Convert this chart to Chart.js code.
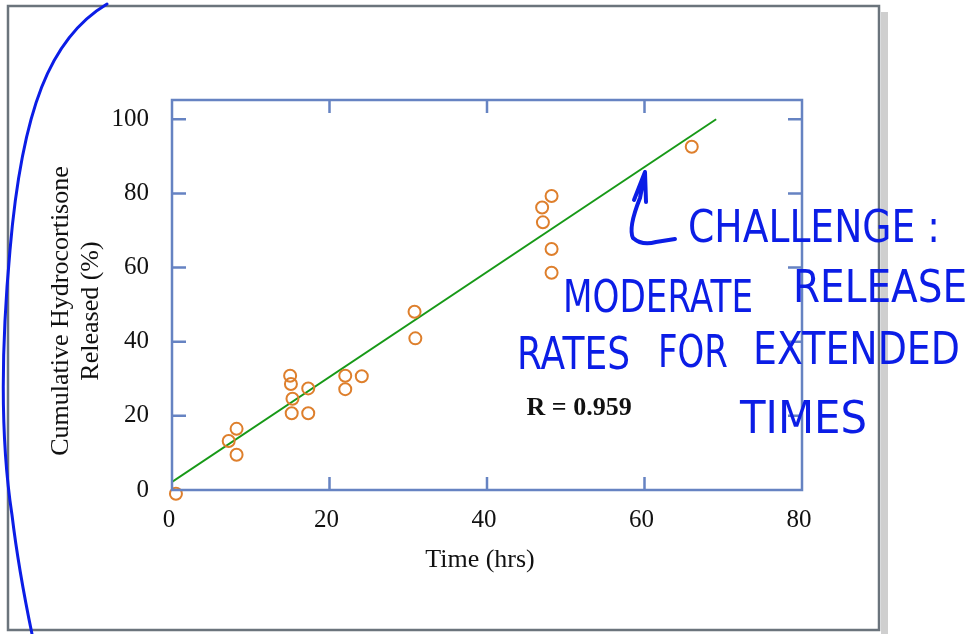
<!DOCTYPE html>
<html>
<head>
<meta charset="utf-8">
<script src="https://cdn.jsdelivr.net/npm/chart.js@4.4.0/dist/chart.umd.min.js"></script>
<style>
  html, body { margin: 0; padding: 0; background: #fff; }
  #wrap { width: 970px; height: 634px; }
</style>
</head>
<body>
<div id="wrap"><canvas id="releaseChart" width="970" height="634"></canvas></div>
<script>
// Release data
const timeHrs = [0.5, 7.2, 8.2, 8.2, 15.0, 15.1, 15.3, 15.2, 17.3, 17.3, 22.0, 22.0, 24.1, 30.8, 30.9, 47.0, 47.1, 48.2, 48.2, 48.2, 66.0];
const releasedPct = [-1.0, 13.2, 16.5, 9.5, 30.8, 28.6, 24.6, 20.7, 27.4, 20.7, 30.8, 27.2, 30.7, 48.1, 40.9, 76.2, 72.2, 79.3, 65.0, 58.6, 92.6];

// Linear fit end points
const fitX = [0, 69.1];
const fitY = [2.2, 100];
const fitR = 'R = 0.959';

const xTicks = [0, 20, 40, 60, 80];
const yTicks = [0, 20, 40, 60, 80, 100];

const xTitle = 'Time (hrs)';
const yTitle = ['Cumulative Hydrocortisone', 'Released (%)'];

const noteLines = [
    ['CHALLENGE :'],
    ['MODERATE', 'RELEASE'],
    ['RATES', 'FOR', 'EXTENDED'],
    ['TIMES']
];

const axisBlue = '#6683c2';
const inkBlue = '#0b1de6';
const serif = '"Liberation Serif", "Times New Roman", serif';

// Draws the paper frame, the plot box with inward ticks, titles and the handwritten notes
const decorations = {
    id: 'decorations',
    beforeDraw(chart) {
        const ctx = chart.ctx;
        ctx.save();
        ctx.fillStyle = '#ffffff';
        ctx.fillRect(0, 0, chart.width, chart.height);
        // drop shadow of the slide frame
        ctx.fillStyle = '#cfcfcf';
        ctx.fillRect(881, 12, 7, chart.height - 12);
        ctx.strokeStyle = '#6b747c';
        ctx.lineWidth = 2.5;
        ctx.strokeRect(8, 6, 871, 624);
        ctx.restore();
    },
    afterDraw(chart) {
        const ctx = chart.ctx;
        const area = chart.chartArea;
        const xs = chart.scales.x;
        const ys = chart.scales.y;
        ctx.save();

        // plot box
        ctx.strokeStyle = axisBlue;
        ctx.lineWidth = 2.5;
        ctx.strokeRect(area.left, area.top, area.right - area.left, area.bottom - area.top);

        // inward ticks on all four sides
        ctx.beginPath();
        yTicks.forEach(v => {
            if (v === 0) return;
            const py = ys.getPixelForValue(v);
            ctx.moveTo(area.left, py); ctx.lineTo(area.left + 14, py);
            ctx.moveTo(area.right, py); ctx.lineTo(area.right - 14, py);
        });
        xTicks.forEach(v => {
            if (v === xTicks[0] || v === xTicks[xTicks.length - 1]) return;
            const px = xs.getPixelForValue(v);
            ctx.moveTo(px, area.bottom); ctx.lineTo(px, area.bottom - 13);
            ctx.moveTo(px, area.top); ctx.lineTo(px, area.top + 13);
        });
        ctx.stroke();

        // axis titles
        ctx.fillStyle = '#111';
        ctx.font = '26px ' + serif;
        ctx.textAlign = 'center';
        ctx.textBaseline = 'middle';
        ctx.fillText(xTitle, 480, 560);
        ctx.save();
        ctx.translate(61, 311);
        ctx.rotate(-Math.PI / 2);
        ctx.fillText(yTitle[0], 0, 0);
        ctx.fillText(yTitle[1], 0, 30);
        ctx.restore();

        // correlation label
        ctx.font = 'bold 26px ' + serif;
        ctx.fillText(fitR, xs.getPixelForValue(51.7), ys.getPixelForValue(22.1));

        // handwritten note
        ctx.fillStyle = inkBlue;
        ctx.font = '45px "DejaVu Sans", sans-serif';
        ctx.textAlign = 'left';
        const spots = [
            [[688, 230, 252]],
            [[563, 300, 190], [793, 290, 174]],
            [[517, 357, 113], [658, 355, 70], [753, 352, 207]],
            [[740, 421, 127]]
        ];
        noteLines.forEach((words, i) => {
            words.forEach((w, j) => {
                const s = spots[i][j];
                ctx.fillText(w, s[0], s[1], s[2]);
            });
        });

        ctx.strokeStyle = inkBlue;
        ctx.lineWidth = 4;
        ctx.lineCap = 'round';
        ctx.lineJoin = 'round';
        // hooked arrow pointing at the fit line
        ctx.beginPath();
        ctx.moveTo(645, 172);
        ctx.lineTo(640, 198);
        ctx.quadraticCurveTo(628, 228, 633, 238);
        ctx.quadraticCurveTo(642, 246, 656, 242);
        ctx.lineTo(675, 239);
        ctx.moveTo(634, 200);
        ctx.lineTo(645, 172);
        ctx.lineTo(646, 202);
        ctx.stroke();

        // big bracket stroke at the left
        ctx.lineWidth = 3;
        ctx.beginPath();
        ctx.moveTo(107, 4);
        ctx.bezierCurveTo(50, 38, 22, 110, 10, 250);
        ctx.bezierCurveTo(0, 360, 2, 450, 12, 515);
        ctx.bezierCurveTo(18, 565, 26, 605, 32, 634);
        ctx.stroke();

        ctx.restore();
    }
};

new Chart(document.getElementById('releaseChart'), {
    data: {
        datasets: [{
            type: 'scatter',
            data: timeHrs.map((t, i) => ({ x: t, y: releasedPct[i] })),
            pointStyle: 'circle',
            pointRadius: 6,
            pointBorderWidth: 2,
            borderColor: '#de7f2c',
            backgroundColor: 'rgba(0,0,0,0)',
            clip: false,
            order: 1
        }, {
            type: 'line',
            data: fitX.map((t, i) => ({ x: t, y: fitY[i] })),
            borderColor: '#179917',
            borderWidth: 2,
            pointRadius: 0,
            fill: false,
            order: 2
        }]
    },
    options: {
        responsive: false,
        animation: false,
        layout: { padding: { top: 100, right: 168, left: 0, bottom: 0 } },
        plugins: {
            legend: { display: false },
            tooltip: { enabled: false }
        },
        scales: {
            x: {
                type: 'linear',
                min: 0,
                max: 80,
                grid: { display: false },
                border: { display: false },
                afterBuildTicks: (scale) => { scale.ticks = xTicks.map(v => ({ value: v })); },
                afterFit: (scale) => { scale.height = 144; },
                ticks: {
                    padding: 7,
                    labelOffset: -3,
                    color: '#111',
                    font: { family: serif, size: 25 }
                }
            },
            y: {
                type: 'linear',
                min: 0,
                max: 105.2,
                grid: { display: false },
                border: { display: false },
                afterBuildTicks: (scale) => { scale.ticks = yTicks.map(v => ({ value: v })); },
                afterFit: (scale) => { scale.width = 172; },
                ticks: {
                    padding: 15,
                    color: '#111',
                    font: { family: serif, size: 25 }
                }
            }
        }
    },
    plugins: [decorations]
});
</script>
</body>
</html>
